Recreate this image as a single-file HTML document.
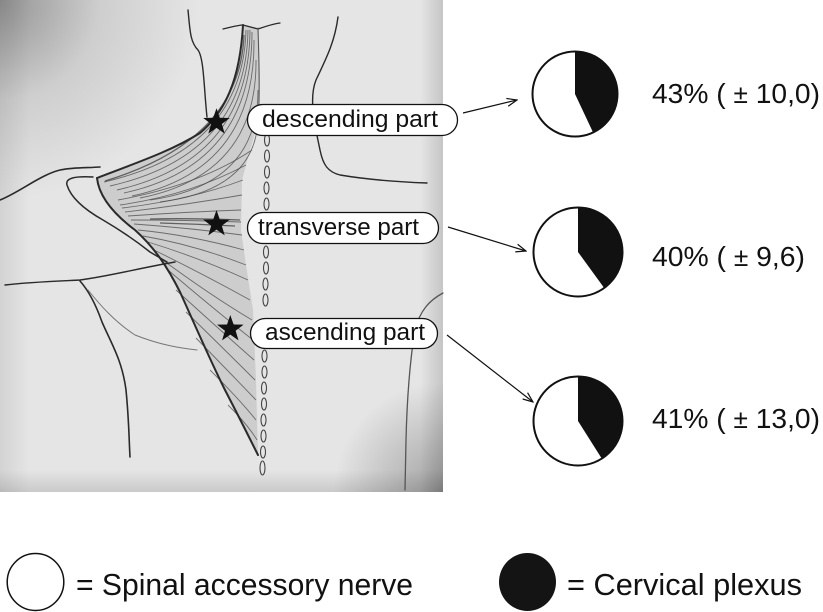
<!DOCTYPE html>
<html>
<head>
<meta charset="utf-8">
<style>
  html, body { margin: 0; padding: 0; background: #ffffff; }
  body { width: 823px; height: 612px; overflow: hidden; }
  svg { display: block; }
  text { font-family: "Liberation Sans", "DejaVu Sans", sans-serif; fill: #111; }
</style>
</head>
<body>
<svg width="823" height="612" viewBox="0 0 823 612" xmlns="http://www.w3.org/2000/svg">
  <defs>
    <radialGradient id="tl" cx="0" cy="0" r="200" gradientUnits="userSpaceOnUse">
      <stop offset="0" stop-color="#000" stop-opacity="0.36"/>
      <stop offset="0.5" stop-color="#000" stop-opacity="0.1"/>
      <stop offset="1" stop-color="#000" stop-opacity="0"/>
    </radialGradient>
    <radialGradient id="br" cx="443" cy="492" r="110" gradientUnits="userSpaceOnUse">
      <stop offset="0" stop-color="#000" stop-opacity="0.3"/>
      <stop offset="1" stop-color="#000" stop-opacity="0"/>
    </radialGradient>
    <linearGradient id="re" x1="420" y1="0" x2="443" y2="0" gradientUnits="userSpaceOnUse">
      <stop offset="0" stop-color="#000" stop-opacity="0"/>
      <stop offset="1" stop-color="#000" stop-opacity="0.14"/>
    </linearGradient>
    <linearGradient id="be" x1="0" y1="470" x2="0" y2="492" gradientUnits="userSpaceOnUse">
      <stop offset="0" stop-color="#000" stop-opacity="0"/>
      <stop offset="1" stop-color="#000" stop-opacity="0.12"/>
    </linearGradient>
    <linearGradient id="le" x1="0" y1="0" x2="30" y2="0" gradientUnits="userSpaceOnUse">
      <stop offset="0" stop-color="#000" stop-opacity="0.08"/>
      <stop offset="1" stop-color="#000" stop-opacity="0"/>
    </linearGradient>
    <marker id="ah" viewBox="0 0 12 10" refX="11" refY="5" markerWidth="12" markerHeight="10" markerUnits="userSpaceOnUse" orient="auto">
      <path d="M1,1 L11,5 L1,9" fill="none" stroke="#111" stroke-width="1.2"/>
    </marker>
  </defs>

  <!-- photo background -->
  <rect x="0" y="0" width="443" height="492" fill="#e5e5e5"/>
  <rect x="0" y="0" width="443" height="492" fill="url(#tl)"/>
  <rect x="0" y="0" width="443" height="492" fill="url(#br)"/>
  <rect x="0" y="0" width="443" height="492" fill="url(#re)"/>
  <rect x="0" y="0" width="443" height="492" fill="url(#be)"/>
  <rect x="0" y="0" width="443" height="492" fill="url(#le)"/>

  <!-- muscle fill -->
  <path d="M243,25 L258,28 L259,120 L250,150 L242,180 L241,230 L246,265 L253,310 L256,380 L258,455
           C248,435 238,415 225,390 C210,360 195,325 180,292 C168,268 155,248 135,230 C115,215 99,197 97,178
           C130,165 170,152 200,133 C225,112 240,80 243,25 Z" fill="#cdcdcd"/>

  <!-- fibers -->
  <g fill="none" stroke="#4a4a4a" stroke-width="0.9" stroke-opacity="0.75">
    <path d="M246,30 Q243,150 104,182"/>
    <path d="M248,30 Q246,155 110,186"/>
    <path d="M250,30 Q249,160 117,190"/>
    <path d="M252,32 Q252,165 124,193"/>
    <path d="M254,40 Q255,170 132,196"/>
    <path d="M256,60 Q257,175 140,198"/>
    <path d="M258,90 Q258,185 150,200"/>
    <path d="M258,120 Q255,190 160,202"/>
    <path d="M252,150 Q200,185 118,200"/>
    <path d="M246,165 Q190,195 120,205"/>
    <path d="M243,180 Q190,200 122,208"/>
    <path d="M242,195 Q185,205 125,212"/>
    <path d="M241,210 Q185,212 128,216"/>
    <path d="M241,222 Q185,220 131,220"/>
    <path d="M242,235 Q190,228 134,224"/>
    <path d="M244,250 Q190,235 138,230"/>
    <path d="M246,265 Q195,245 143,236"/>
    <path d="M248,280 Q200,258 148,242"/>
    <path d="M250,300 Q205,275 154,250"/>
    <path d="M252,320 Q210,295 160,258"/>
    <path d="M253,340 Q215,310 168,270"/>
    <path d="M254,360 Q220,330 176,290"/>
    <path d="M255,380 Q225,350 186,312"/>
    <path d="M256,400 Q232,375 196,338"/>
    <path d="M256,420 Q240,400 210,370"/>
    <path d="M257,440 Q248,425 228,405"/>
  </g>
  <g fill="none" stroke="#333" stroke-width="1.3" stroke-opacity="0.7">
    <path d="M240,220 Q190,218 150,219"/>
    <path d="M235,226 Q195,224 160,223"/>
    <path d="M244,35 Q240,140 105,181"/>
  </g>

  <!-- outlines -->
  <g fill="none" stroke="#2a2a2a" stroke-linecap="round">
    <path d="M97,178 C130,165 170,152 200,133 C225,112 240,80 243,25" stroke-width="2"/>
    <path d="M97,178 C99,197 115,215 135,230 C155,248 168,268 180,292 C195,325 210,360 225,390 C238,415 248,435 258,455" stroke-width="2"/>
    <path d="M0,200 C20,192 40,175 60,170 C75,167 88,168 100,167" stroke-width="1.6"/>
    <path d="M93,177 C75,176 65,178 67,185 C70,195 80,207 103,220 C120,230 135,240 150,252 L167,262" stroke-width="1.5"/>
    <path d="M188,10 C190,30 190,42 198,50 C204,58 204,90 207,117" stroke-width="1.4"/>
    <path d="M223,29 C232,27 238,25 243,25 L258,29 C264,27 272,24 280,23" stroke-width="1.3"/>
    <path d="M258,28 C259,60 260,95 258,125" stroke-width="1.1" stroke="#555"/>
    <path d="M338,17 C335,40 328,55 316,80 C308,100 316,130 320,150 C323,165 328,172 340,175 C370,180 400,182 427,183" stroke-width="1.4"/>
    <path d="M5,285 C30,282 60,281 80,280 C110,276 140,268 175,262" stroke-width="1.4"/>
    <path d="M80,281 C88,290 96,305 102,322 C112,345 122,360 126,390 C129,420 129,440 130,457" stroke-width="1.6"/>
    <path d="M88,290 C100,305 115,322 135,335 C160,345 180,348 197,350" stroke-width="1" stroke="#777"/>
    <path d="M443,293 C430,300 420,310 415,330 C410,360 407,400 406,440 L405,490" stroke-width="1.3" stroke="#555"/>
  </g>

  <!-- spine -->
  <g fill="none" stroke="#444" stroke-width="1.1">
    <ellipse cx="267" cy="140" rx="2.5" ry="6"/>
    <ellipse cx="267" cy="156" rx="2.5" ry="6"/>
    <ellipse cx="267" cy="172" rx="2.5" ry="6"/>
    <ellipse cx="266.5" cy="188" rx="2.5" ry="6"/>
    <ellipse cx="266.5" cy="204" rx="2.5" ry="6"/>
    <ellipse cx="266" cy="252" rx="2.5" ry="6"/>
    <ellipse cx="266" cy="268" rx="2.5" ry="6"/>
    <ellipse cx="265.5" cy="284" rx="2.5" ry="6"/>
    <ellipse cx="265.5" cy="300" rx="2.5" ry="6"/>
    <ellipse cx="264.5" cy="356" rx="2.5" ry="6"/>
    <ellipse cx="264.5" cy="372" rx="2.5" ry="6"/>
    <ellipse cx="264" cy="388" rx="2.5" ry="6"/>
    <ellipse cx="264" cy="404" rx="2.5" ry="6"/>
    <ellipse cx="263.5" cy="420" rx="2.5" ry="6"/>
    <ellipse cx="263.5" cy="436" rx="2.5" ry="6"/>
    <ellipse cx="263" cy="452" rx="2.5" ry="6"/>
    <ellipse cx="262.5" cy="468" rx="2.5" ry="7"/>
  </g>

  <!-- stars -->
  <g fill="#111">
    <polygon points="0,-14 3.29,-4.53 13.31,-4.33 5.33,1.73 8.23,11.33 0,5.6 -8.23,11.33 -5.33,1.73 -13.31,-4.33 -3.29,-4.53" transform="translate(216.5,122.3)"/>
    <polygon points="0,-14 3.29,-4.53 13.31,-4.33 5.33,1.73 8.23,11.33 0,5.6 -8.23,11.33 -5.33,1.73 -13.31,-4.33 -3.29,-4.53" transform="translate(216.5,224)"/>
    <polygon points="0,-14 3.29,-4.53 13.31,-4.33 5.33,1.73 8.23,11.33 0,5.6 -8.23,11.33 -5.33,1.73 -13.31,-4.33 -3.29,-4.53" transform="translate(230.3,329)"/>
  </g>

  <!-- label boxes -->
  <g fill="#fff" stroke="#111" stroke-width="1.3">
    <rect x="247.5" y="104.5" width="210" height="31" rx="15.5" ry="15.5"/>
    <rect x="247.5" y="212.5" width="191" height="31" rx="15.5" ry="15.5"/>
    <rect x="250.5" y="318.5" width="187" height="30" rx="15" ry="15"/>
  </g>
  <text x="262" y="127" font-size="24" textLength="176" lengthAdjust="spacingAndGlyphs">descending part</text>
  <text x="258" y="235" font-size="24" textLength="161" lengthAdjust="spacingAndGlyphs">transverse part</text>
  <text x="265" y="340" font-size="24" textLength="160" lengthAdjust="spacingAndGlyphs">ascending part</text>

  <!-- arrows -->
  <g stroke="#111" stroke-width="1.2" fill="none">
    <line x1="463" y1="113" x2="517" y2="100" marker-end="url(#ah)"/>
    <line x1="448" y1="227" x2="526" y2="251" marker-end="url(#ah)"/>
    <line x1="447" y1="335" x2="533" y2="402" marker-end="url(#ah)"/>
  </g>

  <!-- pies -->
  <circle cx="575" cy="94" r="42.5" fill="#fff"/>
  <path d="M575,94 L575,51.5 A42.5,42.5 0 0 1 593.1,132.5 Z" fill="#111"/>
  <circle cx="575" cy="94" r="42.5" fill="none" stroke="#111" stroke-width="2"/>

  <circle cx="578" cy="252" r="44.5" fill="#fff"/>
  <path d="M578,252 L578,207.5 A44.5,44.5 0 0 1 604.2,288 Z" fill="#111"/>
  <circle cx="578" cy="252" r="44.5" fill="none" stroke="#111" stroke-width="2"/>

  <circle cx="578" cy="421" r="44.5" fill="#fff"/>
  <path d="M578,421 L578,376.5 A44.5,44.5 0 0 1 601.8,458.6 Z" fill="#111"/>
  <circle cx="578" cy="421" r="44.5" fill="none" stroke="#111" stroke-width="2"/>

  <!-- percentages -->
  <text x="652" y="103" font-size="28" textLength="168" lengthAdjust="spacingAndGlyphs">43% ( <tspan font-size="26">±</tspan> 10,0)</text>
  <text x="652" y="266" font-size="28" textLength="153" lengthAdjust="spacingAndGlyphs">40% ( <tspan font-size="26">±</tspan> 9,6)</text>
  <text x="652" y="428" font-size="28" textLength="168" lengthAdjust="spacingAndGlyphs">41% ( <tspan font-size="26">±</tspan> 13,0)</text>

  <!-- legend -->
  <ellipse cx="35.5" cy="582" rx="28.3" ry="28.5" fill="#fff" stroke="#111" stroke-width="1.5"/>
  <text x="76" y="595" font-size="31" textLength="337" lengthAdjust="spacingAndGlyphs">= Spinal accessory nerve</text>
  <ellipse cx="527.5" cy="582" rx="28.5" ry="29" fill="#141414"/>
  <text x="567" y="595" font-size="31" textLength="235" lengthAdjust="spacingAndGlyphs">= Cervical plexus</text>
</svg>
</body>
</html>
